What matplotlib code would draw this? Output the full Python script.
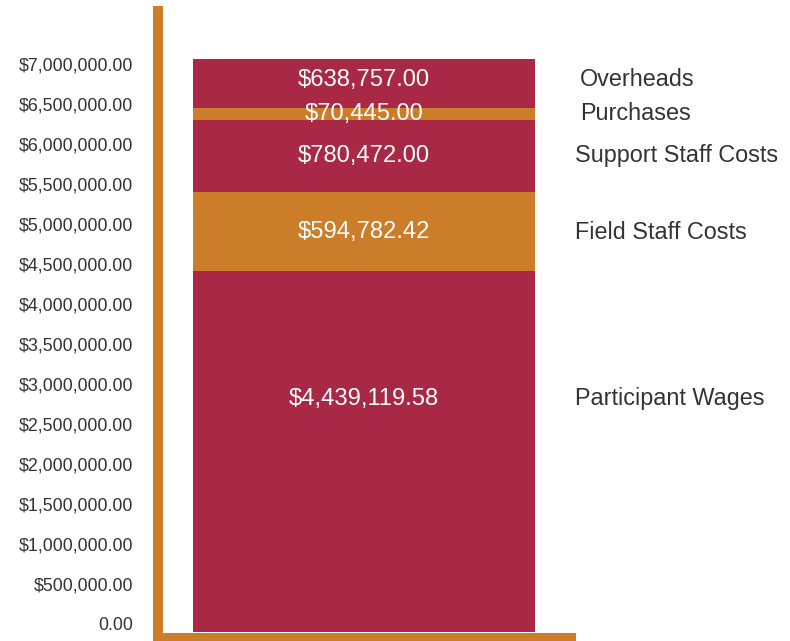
import matplotlib
matplotlib.use("Agg")
import matplotlib.pyplot as plt
from matplotlib.transforms import ScaledTranslation, blended_transform_factory

# cost categories, bottom to top
categories = ["Participant Wages", "Field Staff Costs", "Support Staff Costs",
              "Purchases", "Overheads"]
# printed amounts
amounts = [4439119.58, 594782.42, 780472.00, 70445.00, 638757.00]
# segment heights as drawn against the axis (picture is not to scale)
drawn_heights = [4510000, 990000, 900000, 150000, 610000]

y_ticks = list(range(0, 7000001, 500000))

RED = "#A92846"
ORANGE = "#CB7D29"
TEXT = "#333333"
FONT = "Liberation Sans"

# layout tweaks: where the labels sit relative to segment centre
label_shift = [660000, -5000, 5000, 0, 45000]
name_x = [575, 575, 575, 580, 580]

W, H = 790, 641
fig = plt.figure(figsize=(W / 100, H / 100), dpi=100)
ax = fig.add_axes([158 / W, (H - 636.5) / H, (571 - 158) / W, (636.5 - 11) / H])

colors = [RED, ORANGE, RED, ORANGE, RED]
bottom = 0
centres = []
for h, c in zip(drawn_heights, colors):
    ax.bar(0, h, bottom=bottom, width=1.0, color=c, linewidth=0)
    centres.append(bottom + h / 2)
    bottom += h

# keep the bar at 193..535 px
ax.set_xlim(-0.602, 0.605)
ax.set_ylim(-56250, 7762500)

name_tr = blended_transform_factory(fig.transFigure, ax.transData)
for i, (cat, amt) in enumerate(zip(categories, amounts)):
    y = centres[i] + label_shift[i]
    ax.text(0, y, f"${amt:,.2f}", color="white", fontsize=17.1, family=FONT,
            ha="center", va="center")
    ax.text(name_x[i] / W, y, cat, color=TEXT, fontsize=16.8, family=FONT,
            ha="left", va="center", transform=name_tr)

ax.set_xticks([])
ax.set_yticks(y_ticks)
ax.set_yticklabels(["0.00"] + [f"${v:,.2f}" for v in y_ticks[1:]])
ax.tick_params(axis="y", length=0, pad=18, labelsize=12.9, labelcolor=TEXT)
for lab in ax.get_yticklabels():
    lab.set_family(FONT)
    lab.set_transform(lab.get_transform() + ScaledTranslation(0, 0.08, fig.dpi_scale_trans))

for side in ("top", "right"):
    ax.spines[side].set_visible(False)
ax.spines["left"].set_color(ORANGE)
ax.spines["left"].set_linewidth(7.2)
ax.spines["bottom"].set_color(ORANGE)
ax.spines["bottom"].set_linewidth(6.5)
for side in ("left", "bottom"):
    ax.spines[side].set_capstyle("projecting")

fig.savefig("out.png", dpi=100)
